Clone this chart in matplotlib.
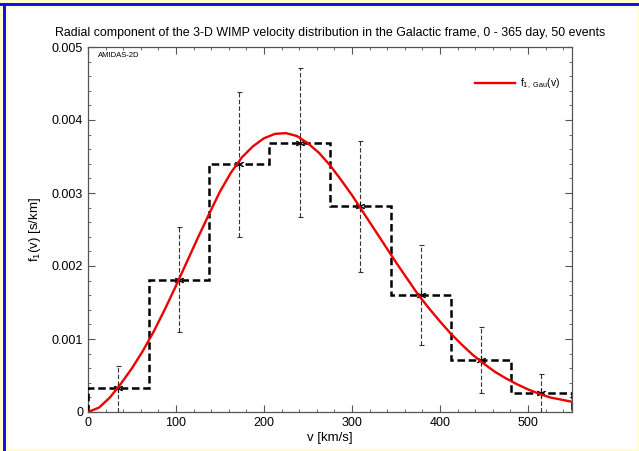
import numpy as np
import matplotlib
matplotlib.use("Agg")
import matplotlib.pyplot as plt
from matplotlib.patches import Rectangle
from matplotlib.ticker import MultipleLocator

plt.rcParams['font.family'] = ['Liberation Sans', 'DejaVu Sans']
plt.rcParams['mathtext.default'] = 'regular'

# histogram of reconstructed velocity distribution
bin_edges = [0, 69, 137, 206, 275, 344, 412, 481, 550]
bin_heights = [0.000334, 0.001814, 0.003395, 0.003684, 0.002822, 0.001608, 0.000715, 0.000257]

# data points with error bars
point_v = [34, 103, 172, 241, 309, 378, 447, 515]
point_f = [0.000334, 0.001814, 0.003395, 0.003684, 0.002822, 0.001608, 0.000715, 0.000257]
err_low = [0.0, 0.001095, 0.00240, 0.00267, 0.001915, 0.000921, 0.000257, 0.0]
err_high = [0.000632, 0.00253, 0.00439, 0.00471, 0.003716, 0.002282, 0.001159, 0.000518]

# fitted curve f_{1,Gau}(v)
curve_v = [0, 12.5, 25, 37.5, 50, 62.5, 75, 87.5, 100, 112.5, 125, 137.5, 150, 162.5, 175,
           187.5, 200, 212.5, 225, 237.5, 250, 262.5, 275, 287.5, 300, 312.5, 325,
           337.5, 350, 362.5, 375, 387.5, 400, 412.5, 425, 437.5, 450, 462.5, 475,
           487.5, 500, 512.5, 525, 537.5, 550]
curve_f = [0.0, 0.00006, 0.00020, 0.00039, 0.00060, 0.00084, 0.00111, 0.00141, 0.00173, 0.00206,
           0.00239, 0.00271, 0.00302, 0.00328, 0.00349, 0.00364, 0.00375, 0.00381,
           0.00382, 0.00378, 0.00368, 0.00355, 0.00338, 0.00318, 0.00297, 0.00274,
           0.00251, 0.00228, 0.00205, 0.00183, 0.00161, 0.00142, 0.00124, 0.00107,
           0.00092, 0.00078, 0.00066, 0.00055, 0.00046, 0.00038, 0.00031, 0.00025,
           0.00020, 0.00017, 0.00014]

fig = plt.figure(figsize=(6.39, 4.51), dpi=100)
fig.patch.set_facecolor('#ffffcc')
W, H = 639, 451
fig.patches.append(Rectangle((8 / W, 2 / H), 629 / W, 441 / H, transform=fig.transFigure,
                             facecolor='white', edgecolor='none', zorder=-2))
fig.patches.append(Rectangle((0, 1 - 6 / H), 1, 3 / H, transform=fig.transFigure,
                             facecolor='#1010ff', edgecolor='none', zorder=-1))
fig.patches.append(Rectangle((3 / W, 0), 3 / W, 1 - 3 / H, transform=fig.transFigure,
                             facecolor='#1010ff', edgecolor='none', zorder=-1))

ax = fig.add_axes([88 / W, 39 / H, 484 / W, 365 / H])
ax.set_facecolor('white')

# histogram steps
ax.stairs(bin_heights, bin_edges, color='black', lw=1.8, ls=(0, (3, 1.5)), baseline=0, zorder=3)

# error bars
eb = ax.errorbar(point_v, point_f,
                 yerr=[np.array(point_f) - np.array(err_low), np.array(err_high) - np.array(point_f)],
                 fmt='none', ecolor='#333333', elinewidth=0.8, capsize=1.8, capthick=0.8, zorder=2)
eb[2][0].set_linestyle((0, (4, 2)))
ax.plot(point_v, point_f, ls='none', marker=(6, 2, 0), ms=6.5, mew=0.8, color='#111111', zorder=4)

# fitted curve
ax.plot(curve_v, curve_f, color='#ee0000', lw=1.7, zorder=5, label=r'f$_{1,\ Gau}$(v)')

ax.set_xlim(0, 550)
ax.set_ylim(0, 0.005)
ax.xaxis.set_major_locator(MultipleLocator(100))
ax.xaxis.set_minor_locator(MultipleLocator(20))
ax.yaxis.set_major_locator(MultipleLocator(0.001))
ax.yaxis.set_minor_locator(MultipleLocator(0.0002))
ax.set_yticks([0, 0.001, 0.002, 0.003, 0.004, 0.005])
ax.set_yticklabels(['0', '0.001', '0.002', '0.003', '0.004', '0.005'])
ax.tick_params(which='both', direction='in', top=True, right=True, color='#555555', labelsize=9)
ax.tick_params(which='major', length=5, width=0.8)
ax.tick_params(which='minor', length=2.5, width=0.6)
for s in ax.spines.values():
    s.set_color('#555555')
    s.set_linewidth(0.9)

ax.set_xlabel('v [km/s]', fontsize=9.5, labelpad=2)
ax.set_ylabel(r'f$_1$(v) [s/km]', fontsize=9.5, labelpad=6)
ax.set_title('Radial component of the 3-D WIMP velocity distribution in the Galactic frame, 0 - 365 day, 50 events',
             fontsize=8.9, pad=8)
ax.text(0.02, 0.978, 'AMIDAS-2D', transform=ax.transAxes, fontsize=5.5, va='center', ha='left')

ax.legend(loc='center left', bbox_to_anchor=(0.80, 0.899), frameon=False, fontsize=7.5,
          handlelength=3.8, handletextpad=0.5, borderpad=0, borderaxespad=0)

fig.savefig('out.png', dpi=100, facecolor=fig.get_facecolor())
